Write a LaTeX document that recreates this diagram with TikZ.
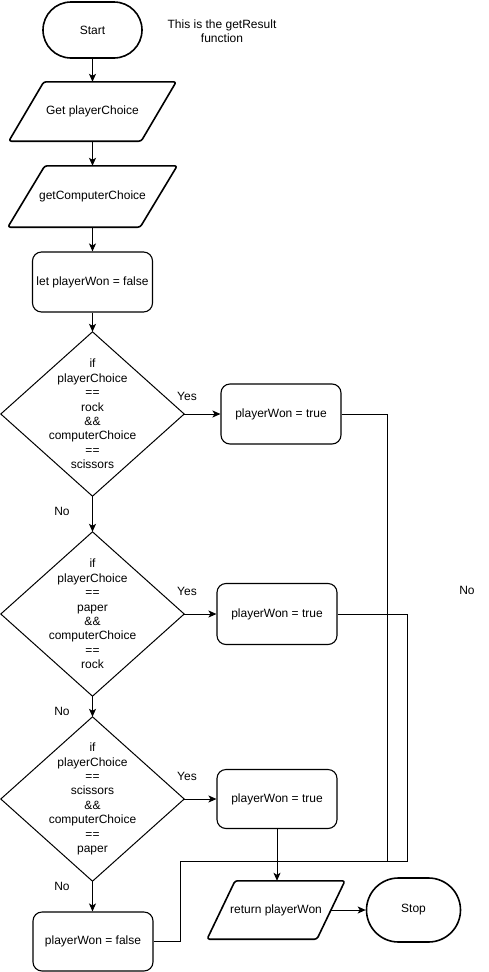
\documentclass[tikz,border=0pt]{standalone}
\usepackage{fontspec}
\setmainfont{Liberation Sans}
\usetikzlibrary{arrows.meta}
\begin{document}
\begin{tikzpicture}[x=1pt,y=-1pt,
  every node/.style={font=\fontsize{12}{14.4}\selectfont, inner sep=0pt, align=center},
  term/.style={draw, line width=1.6pt},
  proc/.style={draw, line width=1.1pt, rounded corners=9pt, minimum width=120pt, minimum height=60pt},
  io/.style={minimum width=132pt, minimum height=60pt},
  paraline/.style={line width=1.6pt, rounded corners=2.5pt, line join=round},
  cond/.style={minimum width=183pt, minimum height=164pt},
  condline/.style={line width=1pt, line join=miter},
  flow/.style={line width=1pt, -{Stealth[length=8pt,width=7pt,inset=2pt]}},
  link/.style={line width=1pt}]
\useasboundingbox (0,0) rectangle (489,972);

% start and comment
\node[term, minimum width=99pt, minimum height=56pt, rounded corners=28pt] (start) at (92.5,30) {Start};
\node (note) at (222,31) {This is the getResult\\function};

% inputs
\node[io, minimum height=59pt] (get1) at (92.5,111.5) {Get playerChoice};
\draw[paraline] ([xshift=17.5pt]get1.north west) -- ([xshift=17.5pt]get1.north east)
  -- ([xshift=-17.5pt]get1.south east) -- ([xshift=-17.5pt]get1.south west) -- cycle;
\node[io, minimum height=61pt] (get2) at (92.5,196.5) {getComputerChoice};
\draw[paraline] ([xshift=18.5pt]get2.north west) -- ([xshift=18.5pt]get2.north east)
  -- ([xshift=-18.5pt]get2.south east) -- ([xshift=-18.5pt]get2.south west) -- cycle;

\node[proc] (init) at (92.5,282) {let playerWon = false};

% decisions
\node[cond] (d1) at (92.5,414) {if\\playerChoice\\==\\rock\\\&\&\\computerChoice\\==\\scissors};
\draw[condline] (d1.north) -- (d1.east) -- (d1.south) -- (d1.west) -- cycle;
\node[cond] (d2) at (92.5,614) {if\\playerChoice\\==\\paper\\\&\&\\computerChoice\\==\\rock};
\draw[condline] (d2.north) -- (d2.east) -- (d2.south) -- (d2.west) -- cycle;
\node[cond] (d3) at (92.5,799) {if\\playerChoice\\==\\scissors\\\&\&\\computerChoice\\==\\paper};
\draw[condline] (d3.north) -- (d3.east) -- (d3.south) -- (d3.west) -- cycle;

% outcomes
\node[proc] (y1) at (281,414) {playerWon = true};
\node[proc, minimum height=61pt] (y2) at (277,614) {playerWon = true};
\node[proc, minimum height=59pt] (y3) at (277,799) {playerWon = true};
\node[proc, minimum height=59pt] (f) at (93,941.5) {playerWon = false};

% result and end
\node[io, minimum width=109.5pt, minimum height=58pt] (ret) at (276,910) {return playerWon};
\draw[paraline] ([xshift=14pt]ret.north west) -- ([xshift=14pt]ret.north east)
  -- ([xshift=-14pt]ret.south east) -- ([xshift=-14pt]ret.south west) -- cycle;
\node[term, minimum width=94pt, minimum height=64pt, rounded corners=32pt] (stop) at (413.5,910) {Stop};

% main flow
\draw[flow] (start) -- (get1);
\draw[flow] (get1) -- (get2);
\draw[flow] (get2) -- (init);
\draw[flow] (init) -- (d1);
\draw[flow] (d1.east) -- (y1.west);
\draw[flow] (d1.south) -- (d2.north);
\draw[flow] (d2.east) -- (y2.west);
\draw[flow] (d2.south) -- (d3.north);
\draw[flow] (d3.east) -- (y3.west);
\draw[flow] (d3.south) -- (d3.south |- f.north);
\draw[flow] (y3.south) -- (y3.south |- ret.north);
\draw[flow] (ret.east) -- (stop.west);

% joins into the result
\coordinate (m) at (277,861);
\coordinate (j1) at (387,861);
\coordinate (j2) at (407,861);
\coordinate (j3) at (180,861);
\draw[link] (y1.east) -| (j1) -- (m);
\draw[link] (y2.east) -| (j2) -- (m);
\draw[link] (f.east) -| (j3) -- (m);

% branch labels
\node (yes1) at (187,396) {Yes};
\node (yes2) at (187,591) {Yes};
\node (yes3) at (187,776) {Yes};
\node (no1) at (62,511) {No};
\node (no2) at (62,711) {No};
\node (no3) at (62,886) {No};
\node (no4) at (467,590) {No};
\end{tikzpicture}
\end{document}
